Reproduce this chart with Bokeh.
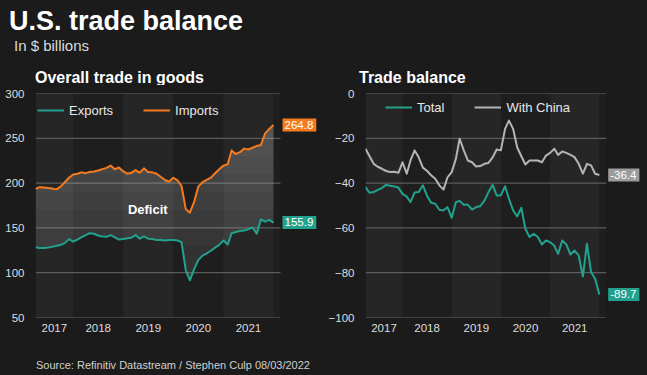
import numpy as np
import pandas as pd
from bokeh.plotting import figure
from bokeh.models import (Label, Legend, LegendItem, FixedTicker,
                          DatetimeTickFormatter, Range1d, Div)
from bokeh.layouts import row, column
from bokeh.embed import file_html
from bokeh.resources import INLINE

# ---------------- data ----------------
months = pd.date_range("2017-04-01", "2022-01-01", freq="MS")  # 58 monthly points

exports = [128.5, 127.5, 127.5, 128.0, 129.0, 130.0, 131.0, 133.0, 137.5, 134.8,
           137.0, 139.5, 142.0, 144.0, 143.5, 141.5, 140.5, 140.0, 142.0, 139.5,
           137.0, 137.5, 138.5, 139.0, 142.0, 138.0, 140.5, 138.0, 137.5, 136.5,
           136.5, 136.0, 136.5, 136.5, 136.0, 134.0, 103.0, 91.5, 104.0, 114.0,
           119.0, 121.5, 124.5, 128.0, 131.0, 136.0, 131.5, 144.0, 145.5, 146.5,
           147.0, 148.5, 150.5, 143.5, 159.5, 157.0, 159.0, 155.9]

imports = [193.6, 195.5, 195.0, 194.5, 194.0, 193.0, 196.0, 201.0, 206.0, 209.5,
           210.5, 212.0, 211.0, 212.5, 213.0, 214.0, 215.5, 217.0, 219.5, 215.5,
           217.5, 213.0, 210.5, 211.5, 214.5, 211.5, 216.5, 212.5, 212.0, 210.5,
           207.0, 203.5, 201.5, 206.0, 203.0, 197.0, 171.0, 167.0, 179.0, 196.0,
           201.0, 203.5, 206.0, 211.0, 215.5, 219.5, 221.0, 236.5, 232.5, 234.5,
           238.5, 237.5, 239.5, 241.5, 242.5, 255.5, 260.5, 264.8]

total = [-41.8, -44.3, -44.0, -43.0, -42.2, -40.8, -41.2, -41.5, -42.0, -44.8,
         -46.0, -48.5, -44.2, -44.0, -41.0, -45.5, -48.8, -49.2, -51.9, -52.2,
         -50.7, -55.5, -48.5, -48.0, -49.7, -49.7, -51.8, -50.7, -50.3, -47.8,
         -44.0, -40.8, -45.5, -45.5, -41.4, -47.0, -52.2, -54.9, -51.0, -60.4,
         -64.1, -62.6, -64.1, -67.4, -65.6, -66.4, -68.0, -71.6, -65.6, -67.4,
         -71.9, -70.1, -72.3, -81.7, -67.1, -79.8, -82.7, -89.7]

china = [-24.7, -28.0, -31.4, -32.7, -33.6, -34.6, -35.0, -34.9, -35.4, -30.7,
         -35.8, -29.9, -25.4, -28.5, -33.1, -34.5, -36.5, -38.1, -41.0, -42.9,
         -37.4, -35.1, -29.2, -20.2, -25.4, -29.9, -30.7, -32.6, -32.4, -31.4,
         -31.0, -28.5, -25.0, -25.4, -15.8, -12.1, -15.8, -24.0, -28.0, -31.7,
         -29.9, -29.9, -29.9, -30.7, -27.7, -26.5, -24.7, -27.4, -25.9, -26.5,
         -27.4, -28.4, -31.4, -35.8, -31.4, -32.1, -35.8, -36.4]

years = [2017, 2018, 2019, 2020, 2021, 2022]
left_ticks = [50, 100, 150, 200, 250, 300]
right_ticks = [-100, -80, -60, -40, -20, 0]

# ---------------- style ----------------
FONT = "Liberation Sans"
BG = "#1b1b1b"
BAND_DARK = "#1e1e1e"
BAND_LIGHT = "#262626"
GRID = "#6a6a6a"
TEAL = "#22a28e"
ORANGE = "#f37a1f"
GREYLINE = "#b5b5b5"
GREYBOX = "#9c9c9c"
TXT = "#dedede"
DAY_MS = 86400000.0
DAYS_PER_PX = 1787 / 245.0


def ms(s):
    return pd.Timestamp(s).value / 1e6


X0 = ms("2017-04-01")     # start of the plotted period
X1 = ms("2022-02-21")     # end of the gridded area

band_l, band_r = [], []
tick_pos = []
for k, y in enumerate(years):
    a = max(ms(f"{y}-01-01"), X0)
    b = min(ms(f"{y + 1}-01-01"), X1)
    if k % 2 == 0:
        band_l.append(a)
        band_r.append(b)
    if y <= 2021:
        tick_pos.append((a + b) / 2)


def make_fig(width, frame_w, y0, y1, yticks):
    xend = X0 + frame_w * DAYS_PER_PX * DAY_MS
    p = figure(width=width, height=255, x_axis_type="datetime",
               x_range=Range1d(X0, xend), y_range=Range1d(y0, y1),
               output_backend="svg", toolbar_location=None,
               min_border_left=35, min_border_right=width - 35 - frame_w,
               min_border_top=8, min_border_bottom=23)
    p.background_fill_color = BG
    p.border_fill_color = BG
    p.outline_line_color = None
    p.grid.grid_line_color = None
    p.yaxis.ticker = FixedTicker(ticks=yticks)
    p.xaxis.ticker = FixedTicker(ticks=tick_pos)
    p.xaxis.formatter = DatetimeTickFormatter(
        milliseconds="%Y", seconds="%Y", minsec="%Y", minutes="%Y",
        hourmin="%Y", hours="%Y", days="%Y", months="%Y", years="%Y")
    p.axis.axis_line_color = None
    p.axis.major_tick_line_color = None
    p.axis.minor_tick_line_color = None
    p.axis.major_label_text_color = TXT
    p.axis.major_label_text_font = FONT
    p.axis.major_label_text_font_size = "11.5px"
    p.yaxis.major_label_standoff = 5
    p.xaxis.major_label_standoff = 0
    # alternating year bands
    p.quad(left=[X0], right=[X1], bottom=y0, top=y1,
           fill_color=BAND_DARK, line_color=None, level="image")
    p.quad(left=band_l, right=band_r, bottom=y0, top=y1,
           fill_color=BAND_LIGHT, line_color=None, level="image")
    # horizontal grid lines over the gridded area only
    p.segment(x0=[X0] * len(yticks), x1=[X1] * len(yticks), y0=yticks, y1=yticks,
              line_color=GRID, line_width=1, level="underlay")
    return p


def end_label(p, y, color):
    p.add_layout(Label(x=X1, y=y, x_offset=2, text=f"{y:.1f}",
                       text_align="left", text_baseline="middle",
                       text_font=FONT, text_font_size="11.5px",
                       text_color="white", background_fill_color=color,
                       padding=(2, 3, 2, 3)))


def add_legend(p, items, loc):
    lg = Legend(items=items, location=loc, orientation="horizontal",
                spacing=30, glyph_width=27, label_standoff=5,
                padding=0, margin=0, label_text_font=FONT,
                label_text_font_size="13px", label_text_color="#e8e8e8",
                background_fill_alpha=0, border_line_color=None)
    p.add_layout(lg)


# ---------------- left chart ----------------
p1 = make_fig(325, 287, 50, 300, left_ticks)
ex = np.array(exports)
im = np.array(imports)
p1.varea(x=months, y1=ex, y2=im, fill_color="white", fill_alpha=0.09)
for t in [130, 150, 170, 190, 210, 230, 250]:
    p1.varea(x=months, y1=np.maximum(ex, np.minimum(im, t)), y2=im,
             fill_color="white", fill_alpha=0.022)
r_exp = p1.line(months, exports, line_color=TEAL, line_width=2, line_join="round")
r_imp = p1.line(months, imports, line_color=ORANGE, line_width=2, line_join="round")
add_legend(p1, [LegendItem(label="Exports", renderers=[r_exp]),
                LegendItem(label="Imports", renderers=[r_imp])], (2, 197))
end_label(p1, imports[-1], ORANGE)
end_label(p1, exports[-1], TEAL)
p1.add_layout(Label(x=ms("2019-06-29"), y=171, text="Deficit",
                    text_align="center", text_baseline="middle",
                    text_font=FONT, text_font_size="13px",
                    text_font_style="bold", text_color="white"))

# ---------------- right chart ----------------
p2 = make_fig(322, 284, -100, 0, right_ticks)
r_tot = p2.line(months, total, line_color=TEAL, line_width=2, line_join="round")
r_chn = p2.line(months, china, line_color=GREYLINE, line_width=2, line_join="round")
add_legend(p2, [LegendItem(label="Total", renderers=[r_tot]),
                LegendItem(label="With China", renderers=[r_chn])], (20, 200))
end_label(p2, china[-1], GREYBOX)
end_label(p2, total[-1], TEAL)


# ---------------- texts ----------------
def txt(left, top, size, text, bold=False, color="white"):
    return (f'<div style="position:absolute;left:{left}px;top:{top}px;'
            f"font-family:'Liberation Sans',Arial,sans-serif;font-size:{size}px;"
            f'line-height:{size}px;font-weight:{"bold" if bold else "normal"};'
            f'color:{color};white-space:nowrap;">{text}</div>')


header_html = ('<div style="position:relative;width:647px;height:85px;">'
               + txt(9, 8, 27, "U.S. trade balance", bold=True)
               + txt(14, 38, 15, "In $ billions", color="#dcdcdc")
               + txt(35, 70, 16, "Overall trade in goods", bold=True)
               + txt(359, 70, 16, "Trade balance", bold=True)
               + '</div>')
footer_html = ('<div style="position:relative;width:647px;height:35px;">'
               + txt(36, 20, 11, "Source: Refinitiv Datastream / Stephen Culp 08/03/2022",
                     color="#d0d0d0")
               + '</div>')

header = Div(text=header_html, width=647, height=85, margin=(0, 0, 0, 0),
             styles={"background-color": BG})
footer = Div(text=footer_html, width=647, height=35, margin=(0, 0, 0, 0),
             styles={"background-color": BG})

charts = row(p1, p2, styles={"background-color": BG})
layout = column(header, charts, footer, styles={"background-color": BG})
open("out.html", "w").write(file_html(layout, INLINE))
